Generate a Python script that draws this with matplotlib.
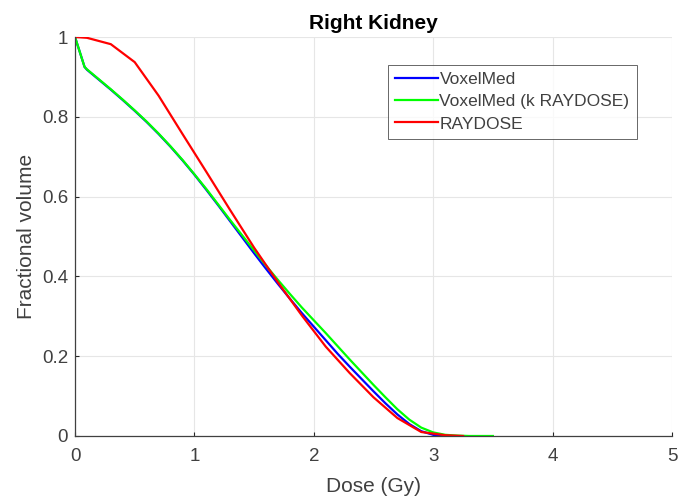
import matplotlib
matplotlib.use("Agg")
import matplotlib.pyplot as plt
import matplotlib.ticker as ticker

plt.rcParams['font.family'] = ['Liberation Sans', 'DejaVu Sans']

# dose values (Gy) and fractional volumes
dose_vm = [0, 0.08, 0.1, 0.2, 0.3, 0.4, 0.5, 0.6, 0.7, 0.8, 0.9, 1.0, 1.1, 1.2, 1.3,
           1.4, 1.5, 1.6, 1.7, 1.8, 1.9, 2.0, 2.1, 2.2, 2.3, 2.4, 2.5, 2.6, 2.7,
           2.8, 2.9, 3.0, 3.1]
vol_vm = [1.0, 0.925, 0.918, 0.893, 0.868, 0.842, 0.815, 0.787, 0.757, 0.725, 0.691,
          0.655, 0.617, 0.578, 0.538, 0.498, 0.458, 0.419, 0.381, 0.344, 0.308,
          0.274, 0.240, 0.206, 0.174, 0.143, 0.112, 0.082, 0.054, 0.030, 0.012,
          0.003, 0.0]

dose_vmk = [0, 0.08, 0.1, 0.2, 0.3, 0.4, 0.5, 0.6, 0.7, 0.8, 0.9, 1.0, 1.1, 1.2, 1.3,
            1.4, 1.5, 1.6, 1.7, 1.8, 1.9, 2.0, 2.1, 2.2, 2.3, 2.4, 2.5, 2.6, 2.7,
            2.8, 2.9, 3.0, 3.1, 3.2, 3.3, 3.5]
vol_vmk = [1.0, 0.925, 0.919, 0.894, 0.869, 0.843, 0.816, 0.788, 0.758, 0.726, 0.692,
           0.656, 0.619, 0.580, 0.541, 0.503, 0.465, 0.427, 0.391, 0.356, 0.322,
           0.290, 0.258, 0.225, 0.192, 0.160, 0.128, 0.097, 0.067, 0.041, 0.021,
           0.009, 0.003, 0.001, 0.0, 0.0]

dose_rd = [0, 0.1, 0.3, 0.5, 0.7, 0.9, 1.1, 1.3, 1.5, 1.7, 1.9, 2.1, 2.3, 2.5, 2.7,
           2.9, 3.1, 3.25]
vol_rd = [1.0, 0.998, 0.982, 0.937, 0.853, 0.757, 0.662, 0.566, 0.472, 0.385, 0.302,
          0.224, 0.158, 0.097, 0.045, 0.010, 0.002, 0.0]

fig = plt.figure(figsize=(6.85, 4.98), dpi=100)
ax = fig.add_axes([0.1095, 0.1245, 0.8715, 0.8012])

ax.plot(dose_vm, vol_vm, color='#0000ff', lw=1.6, label='VoxelMed')
ax.plot(dose_vmk, vol_vmk, color='#00ff00', lw=1.6, label='VoxelMed (k RAYDOSE)')
ax.plot(dose_rd, vol_rd, color='#ff0000', lw=1.6, label='RAYDOSE')

ax.set_xlim(0, 5)
ax.set_ylim(0, 1)
ax.set_xticks([0, 1, 2, 3, 4, 5])
ax.set_yticks([0, 0.2, 0.4, 0.6, 0.8, 1])
ax.yaxis.set_major_formatter(ticker.FuncFormatter(lambda v, _: f'{v:g}'))
ax.grid(True, color='#e6e6e6', lw=0.8)
ax.set_axisbelow(True)
ax.tick_params(direction='in', length=3, colors='#262626', labelsize=13.5,
               labelcolor='#404040')
ax.tick_params(axis='x', pad=9)
ax.tick_params(axis='y', pad=5)
for side in ['top', 'right']:
    ax.spines[side].set_visible(False)
for side in ['left', 'bottom']:
    ax.spines[side].set_color('#404040')
    ax.spines[side].set_linewidth(0.9)

ax.set_xlabel('Dose (Gy)', fontsize=15, color='#404040', labelpad=8)
ax.set_ylabel('Fractional volume', fontsize=15, color='#404040', labelpad=4)
ax.set_title('Right Kidney', fontsize=15, fontweight='bold', pad=6)

leg = ax.legend(loc='upper right', bbox_to_anchor=(0.941, 0.93), fontsize=12.5,
                frameon=True, fancybox=False, handlelength=2.45, handletextpad=0.1,
                borderpad=0.42, labelspacing=0.4, borderaxespad=0)
leg.get_frame().set_edgecolor('#404040')
leg.get_frame().set_linewidth(0.7)
for t in leg.get_texts():
    t.set_color('#404040')

fig.savefig('out.png', dpi=100)
